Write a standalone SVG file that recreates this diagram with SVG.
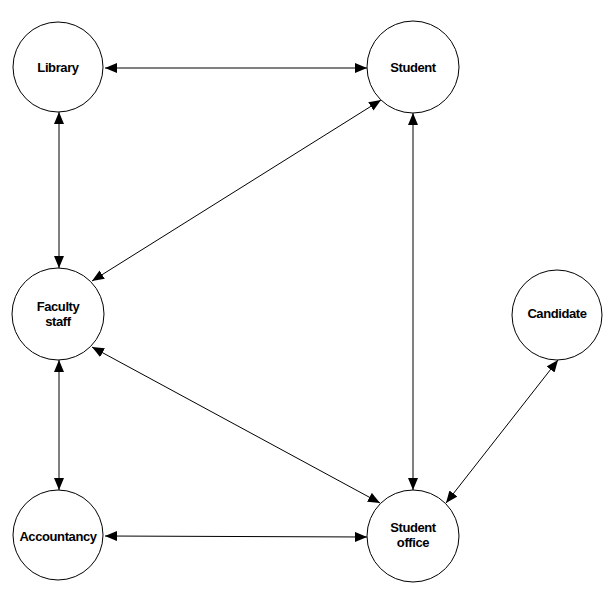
<svg xmlns="http://www.w3.org/2000/svg" width="610" height="597" viewBox="0 0 610 597">
<defs>
<marker id="ah" markerUnits="userSpaceOnUse" markerWidth="12" markerHeight="10" refX="12" refY="5" orient="auto-start-reverse">
<path d="M0,0 L12,5 L0,10 Z" fill="#000"/>
</marker>
<style>
circle{fill:#fff;stroke:#000;stroke-width:1}
text{font-family:"Liberation Sans",Arial,sans-serif;font-size:13px;font-weight:bold;letter-spacing:-0.4px;text-anchor:middle;fill:#000}
.c line{stroke:#000;stroke-width:1;marker-start:url(#ah);marker-end:url(#ah)}
</style>
</defs>
<rect width="610" height="597" fill="#fff"/>
<g class="c" id="connectors">
<line x1="105" y1="68" x2="367" y2="68"/>
<line x1="59" y1="112" x2="59" y2="268"/>
<line x1="381" y1="100" x2="92" y2="281"/>
<line x1="413" y1="113" x2="413" y2="490"/>
<line x1="92" y1="347" x2="380" y2="503"/>
<line x1="59" y1="360" x2="59" y2="490"/>
<line x1="105" y1="536" x2="367" y2="537"/>
<line x1="558" y1="360" x2="446" y2="503"/>
</g>
<g id="library"><circle cx="58" cy="67" r="45"/><text x="58" y="72">Library</text></g>
<g id="student"><circle cx="413" cy="67" r="46"/><text x="413" y="72">Student</text></g>
<g id="faculty"><circle cx="58" cy="314" r="46"/><text x="58" y="311">Faculty</text><text x="58" y="326">staff</text></g>
<g id="candidate"><circle cx="557" cy="315" r="45"/><text x="557" y="318">Candidate</text></g>
<g id="accountancy"><circle cx="58" cy="535" r="45"/><text x="58" y="541">Accountancy</text></g>
<g id="studentoffice"><circle cx="413" cy="536" r="46"/><text x="413" y="532">Student</text><text x="413" y="547">office</text></g>
</svg>
